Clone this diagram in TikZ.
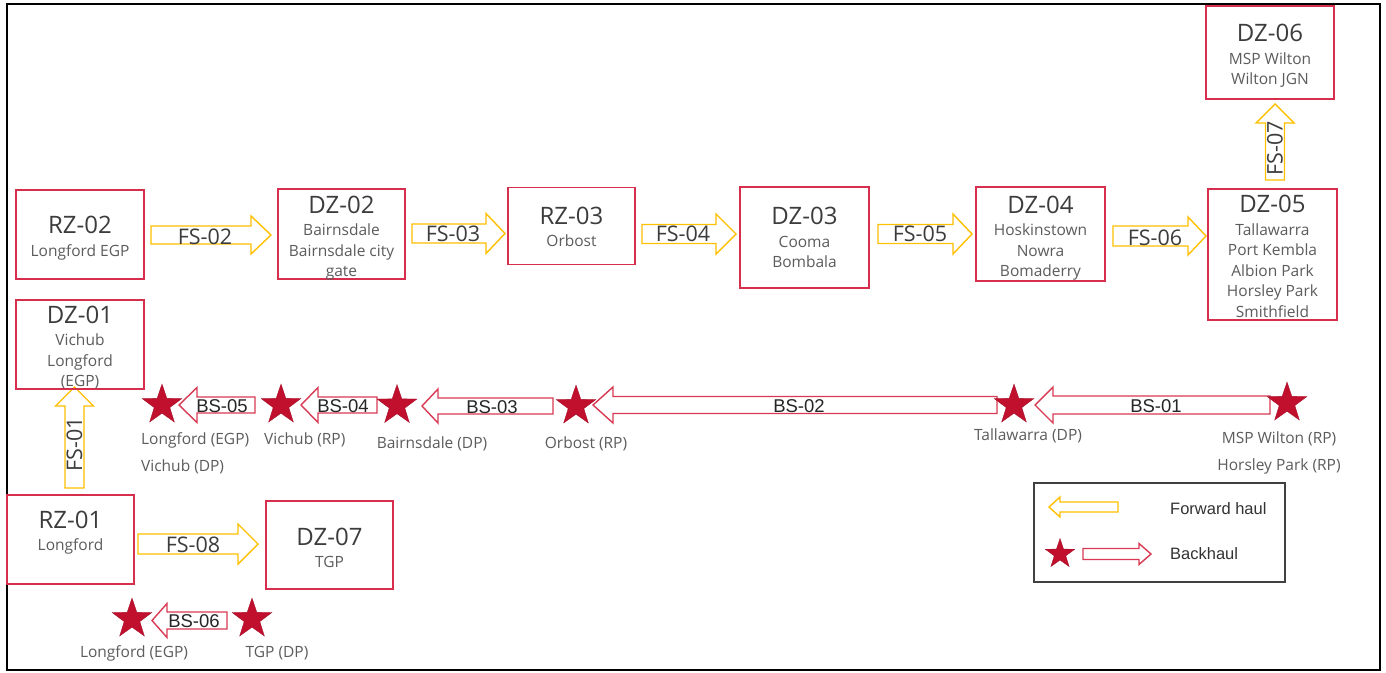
\documentclass[tikz,border=0pt]{standalone}
\usepackage{fontspec}
\setmainfont{Open Sans}
\newfontfamily\arialf{Liberation Sans}
\usetikzlibrary{shapes.geometric}
\definecolor{boxred}{RGB}{214,46,76}
\definecolor{bckred}{RGB}{216,58,84}
\definecolor{starred}{RGB}{192,16,46}
\definecolor{fwdyellow}{RGB}{255,192,0}
\definecolor{titlegray}{RGB}{60,60,60}
\definecolor{subgray}{RGB}{92,92,92}
\newcommand\zt[1]{{\color{titlegray}\fontsize{24}{24}\selectfont #1}\\[2pt]}
% horizontal block arrow: style, tail x, head-base x, tip x, centre y, body half, head half
\newcommand\harrow[7]{\draw[#1] (#2,{#5-#6}) -- (#3,{#5-#6}) -- (#3,{#5-#7}) -- (#4,#5) -- (#3,{#5+#7}) -- (#3,{#5+#6}) -- (#2,{#5+#6}) -- cycle;}
% vertical block arrow: style, centre x, tail y, head-base y, tip y, body half, head half
\newcommand\varrow[7]{\draw[#1] ({#2-#6},#3) -- ({#2-#6},#4) -- ({#2-#7},#4) -- (#2,#5) -- ({#2+#7},#4) -- ({#2+#6},#4) -- ({#2+#6},#3) -- cycle;}
% zone: name, cx, cy, width, height, text offset (down), text
\newcommand\zone[7]{\node[zone, minimum width=#4pt, minimum height=#5pt] (#1) at (#2,#3) {};
  \node[ztext] (#1t) at ([yshift=-#6pt]#1.center) {#7};}
\begin{document}
\begin{tikzpicture}[x=1pt,y=-1pt,
  zone/.style={draw=boxred, line width=1.3pt, inner sep=0pt},
  ztext/.style={inner sep=0pt, align=center, text=subgray, font=\fontsize{15.5}{20.5}\selectfont},
  fwd/.style={draw=fwdyellow, line width=1.4pt, fill=white, line join=miter},
  bck/.style={draw=bckred, line width=1.4pt, fill=white, line join=miter},
  pt/.style={star, star points=5, star point ratio=2.55, minimum size=42pt, inner sep=0pt, fill=starred, draw=starred!85!black, line width=0.3pt},
  flbl/.style={anchor=base, text=titlegray, font=\fontsize{21.5}{22}\selectfont, inner sep=0pt},
  blbl/.style={anchor=base, text=black!85, font=\arialf\fontsize{18.5}{18}\selectfont, inner sep=0pt},
  plbl/.style={text=subgray, font=\fontsize{15.5}{16}\selectfont, inner sep=0pt},
  leg/.style={anchor=base west, text=black!80, font=\arialf\fontsize{16.5}{17}\selectfont, inner sep=0pt},
]
\useasboundingbox (0,0) rectangle (1386,672);
\fill[white] (0,0) rectangle (1386,672);
\draw[line width=2pt, black] (6.5,4) rectangle (1379.5,670);

% forward haul arrows
\harrow{fwd}{151}{251}{271}{235}{9}{19}
\harrow{fwd}{412}{486}{505}{233.5}{9.5}{20}
\harrow{fwd}{642}{716}{736}{234}{9.5}{20}
\harrow{fwd}{878}{953}{972}{234}{9.5}{20}
\harrow{fwd}{1113}{1188}{1206}{236}{10}{19}
\harrow{fwd}{138}{238}{258}{544}{10}{20}
\varrow{fwd}{74.5}{488}{406}{387}{9.5}{19}
\varrow{fwd}{1275}{180}{123}{104}{9.5}{19}

% backhaul arrows
\harrow{bck}{255}{197}{179}{405}{8}{17.5}
\harrow{bck}{377}{318}{301}{405}{8}{17.5}
\harrow{bck}{553}{438}{422}{406}{8}{17}
\harrow{bck}{997}{613}{593}{405}{8.5}{18}
\harrow{bck}{1270}{1053}{1035}{405}{9}{18}
\harrow{bck}{227}{167}{152}{620.5}{8.5}{17}

% zones
\zone{rz02}{80}{234.5}{128}{89}{3.5}{\zt{RZ-02}Longford EGP}
\zone{dz02}{341.5}{234}{127}{90}{4}{\zt{DZ-02}Bairnsdale\\Bairnsdale city\\gate}
\zone{rz03}{571.5}{226}{127}{77}{1}{\zt{RZ-03}Orbost}
\zone{dz03}{804.5}{237.5}{129}{101}{0}{\zt{DZ-03}Cooma\\Bombala}
\zone{dz04}{1040.5}{234}{129}{94}{4}{\zt{DZ-04}Hoskinstown\\Nowra\\Bomaderry}
\zone{dz05}{1272.5}{254.5}{129}{131}{2}{\zt{DZ-05}Tallawarra\\Port Kembla\\Albion Park\\Horsley Park\\Smithfield}
\zone{dz06}{1270}{52.5}{128}{93}{3.5}{\zt{DZ-06}MSP Wilton\\Wilton JGN}
\zone{dz01}{80}{344.5}{128}{89}{3}{\zt{DZ-01}Vichub\\Longford\\(EGP)}
\zone{rz01}{70.5}{539.5}{127}{89}{-7}{\zt{RZ-01}Longford}
\zone{dz07}{329.5}{545}{127}{88}{3}{\zt{DZ-07}TGP}

% forward haul labels
\node[flbl] (fs02) at (205,244) {FS-02};
\node[flbl] (fs03) at (453,241) {FS-03};
\node[flbl] (fs04) at (683,241.5) {FS-04};
\node[flbl] (fs05) at (920,241.5) {FS-05};
\node[flbl] (fs06) at (1155,245) {FS-06};
\node[flbl] (fs08) at (193,552.5) {FS-08};
\node[flbl, anchor=center, rotate=90] (fs01) at (74.5,444) {FS-01};
\node[flbl, anchor=center, rotate=90] (fs07) at (1275,148) {FS-07};

% backhaul labels
\node[blbl] (bs05) at (222,412) {BS-05};
\node[blbl] (bs04) at (343,412) {BS-04};
\node[blbl] (bs03) at (492,413) {BS-03};
\node[blbl] (bs02) at (799,412) {BS-02};
\node[blbl] (bs01) at (1156,412.5) {BS-01};
\node[blbl] (bs06) at (194,627) {BS-06};

% points
\node[pt] (p1) at (162,405) {};
\node[pt] (p2) at (281,405) {};
\node[pt] (p3) at (397,405.5) {};
\node[pt] (p4) at (576,406) {};
\node[pt] (p5) at (1014,405) {};
\node[pt] (p6) at (1287,403) {};
\node[pt] (p7) at (132,619) {};
\node[pt] (p8) at (252,619) {};

% point labels
\node[plbl, anchor=base west] (l1a) at (141,444) {Longford (EGP)};
\node[plbl, anchor=base west] (l1b) at (141,471) {Vichub (DP)};
\node[plbl, anchor=base west] (l2) at (264,444) {Vichub (RP)};
\node[plbl, anchor=base] (l3) at (432,448) {Bairnsdale (DP)};
\node[plbl, anchor=base] (l4) at (586,448) {Orbost (RP)};
\node[plbl, anchor=base] (l5) at (1028,440) {Tallawarra (DP)};
\node[plbl, anchor=base] (l6a) at (1279,443) {MSP Wilton (RP)};
\node[plbl, anchor=base] (l6b) at (1279,470) {Horsley Park (RP)};
\node[plbl, anchor=base] (l7) at (134,657) {Longford (EGP)};
\node[plbl, anchor=base] (l8) at (277,657) {TGP (DP)};

% legend
\node[draw=black!75, line width=1.4pt, minimum width=251pt, minimum height=99pt, inner sep=0pt] (legend) at (1159.5,532.5) {};
\harrow{fwd}{1118}{1060}{1049}{507}{5}{10}
\node[pt, minimum size=31pt] (legstar) at (1060,554) {};
\harrow{bck}{1083}{1139}{1151}{554}{5.5}{10.5}
\node[leg] (legf) at (1170,514) {Forward haul};
\node[leg] (legb) at (1170,559) {Backhaul};
\end{tikzpicture}
\end{document}
